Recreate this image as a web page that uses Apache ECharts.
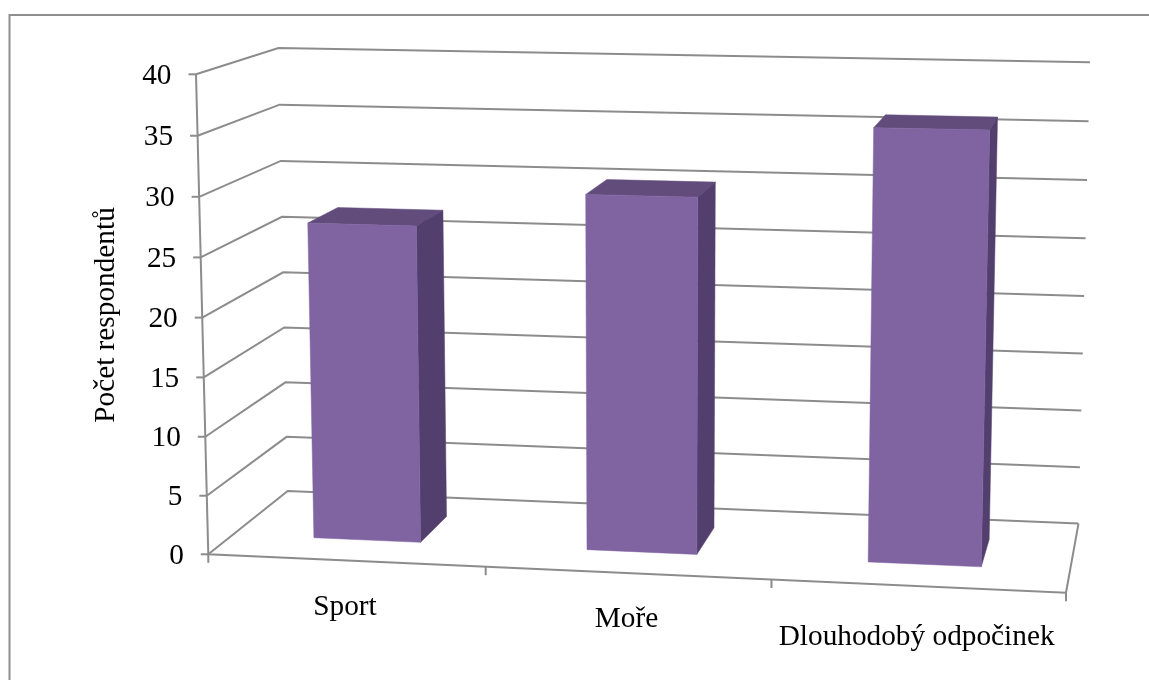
<!DOCTYPE html>
<html>
<head>
<meta charset="utf-8">
<style>html,body{margin:0;padding:0;background:#fff}#chart{width:1149px;height:680px}</style>
<script src="https://cdn.jsdelivr.net/npm/echarts@6/dist/echarts.min.js"></script>
</head>
<body>
<div id="chart"></div>
<script>
const categories = ['Sport', 'Moře', 'Dlouhodobý odpočinek'];
const respondents = [27, 30, 36];
const valueTicks = [0, 5, 10, 15, 20, 25, 30, 35, 40];
const axisTitle = 'Počet respondentů';

// Projected corners of the plot box and homogeneous weights of its three edges.
const ORIGIN = [208.3, 554.3], X_END = [1066, 592.7], Y_END = [196, 74.3], Z_END = [287.7, 491];
const WX = 0.956, WY = 0.97285, WZ = 1.0853;
const VALUE_MAX = 40;
const GRID = { left: 208, top: 74, width: 858, height: 481 };

const COLORS = { front: '#8064A2', side: '#533F6E', top: '#624C7C', line: '#8C8C8C', frame: '#8F8F8F', text: '#000000' };
const FONT = '"Liberation Serif", "Times New Roman", serif';
const TEXT_SIZE = 29.3;

// Perspective map from unit box coordinates (u across, v up, z into the page) to the screen.
function project(u, v, z) {
  const w = 1 + (WX - 1) * u + (WY - 1) * v + (WZ - 1) * z;
  const axis = i => ORIGIN[i]
    + u * (WX * X_END[i] - ORIGIN[i])
    + v * (WY * Y_END[i] - ORIGIN[i])
    + z * (WZ * Z_END[i] - ORIGIN[i]);
  return [axis(0) / w, axis(1) / w];
}

// Grid pixels from the hidden axes become box fractions.
const toU = px => (px - GRID.left) / GRID.width;
const toV = py => 1 - (py - GRID.top) / GRID.height;

const lineStyle = { stroke: COLORS.line, lineWidth: 2, fill: null };
const polyline = pts => ({ type: 'polyline', shape: { points: pts }, style: lineStyle, silent: true });
const face = (pts, fill) => ({ type: 'polygon', shape: { points: pts }, style: { fill: fill, stroke: fill, lineWidth: 0.5 } });
const label = (x, y, text, align) => ({
  type: 'text', silent: true,
  style: { x: x, y: y, text: text, fill: COLORS.text, font: TEXT_SIZE + 'px ' + FONT, textAlign: align, textVerticalAlign: 'middle' }
});

// One gridline per tick: along the left wall, then across the back wall, plus tick and label.
function renderTick(params, api) {
  const tick = api.value(0);
  const v = toV(api.coord([0, tick])[1]);
  const front = project(0, v, 0);
  return {
    type: 'group',
    children: [
      polyline([front, project(0, v, 1), project(1, v, 1)]),
      polyline([front, [front[0] - 7.5, front[1]]]),
      label(front[0] - 24.5, front[1] + 2, String(tick), 'right')
    ]
  };
}

// The value axis, the open edges of the floor and the ticks below the front edge.
function renderFrame(params, api) {
  if (params.dataIndex !== 0) return;
  const children = [
    polyline([project(0, 1, 0), project(0, 0, 0), project(1, 0, 0), project(1, 0, 1)])
  ];
  for (let i = 0; i <= categories.length; i++) {
    const p = project(i / categories.length, 0, 0);
    children.push(polyline([p, [p[0], p[1] + 8.5]]));
  }
  return { type: 'group', children: children };
}

// Category captions sit under the floor, the long last one a little lower.
function renderCategoryLabel(params, api) {
  const i = api.value(0);
  const u = toU(api.coord([i, 0])[0]);
  const p = project(u, 0, 0);
  const drop = i === categories.length - 1 ? 51.5 : 46.5;
  return label(p[0] - 1, p[1] + drop, categories[i], 'center');
}

// A box with a 150% gap on both the width and the depth.
function renderBar(params, api) {
  const i = api.value(0);
  const base = api.coord([i, 0]);
  const v = toV(api.coord([i, api.value(1)])[1]);
  const half = api.size([1, 0])[0] * 0.197 / GRID.width;
  const uc = toU(base[0]) - 0.001;
  const u0 = uc - half, u1 = uc + half, z0 = 0.3, z1 = 0.7;
  return {
    type: 'group',
    children: [
      face([project(u0, v, z0), project(u1, v, z0), project(u1, v, z1), project(u0, v, z1)], COLORS.top),
      face([project(u1, 0, z0), project(u1, 0, z1), project(u1, v, z1), project(u1, v, z0)], COLORS.side),
      face([project(u0, 0, z0), project(u1, 0, z0), project(u1, v, z0), project(u0, v, z0)], COLORS.front)
    ]
  };
}

const chart = echarts.init(document.getElementById('chart'), null, { renderer: 'canvas' });
chart.setOption({
  animation: false,
  backgroundColor: '#ffffff',
  tooltip: { show: false },
  grid: GRID,
  xAxis: { type: 'category', data: categories, show: false },
  yAxis: { type: 'value', min: 0, max: VALUE_MAX, interval: 5, show: false },
  graphic: [
    // The chart frame shows only along its top and left sides.
    { type: 'polyline', silent: true, shape: { points: [[9.5, 680], [9.5, 15], [1149, 15]] },
      style: { fill: null, stroke: COLORS.frame, lineWidth: 2 } },
    { type: 'text', silent: true, x: 106, y: 315, rotation: Math.PI / 2,
      style: { text: axisTitle, fill: COLORS.text, font: TEXT_SIZE + 'px ' + FONT, textAlign: 'center', textVerticalAlign: 'middle' } }
  ],
  series: [
    { type: 'custom', name: 'grid', coordinateSystem: 'cartesian2d', renderItem: renderTick, data: valueTicks.map(t => [t]), encode: { y: 0 }, z: 1, silent: true },
    { type: 'custom', name: 'frame', coordinateSystem: 'cartesian2d', renderItem: renderFrame, data: [[0]], z: 2, silent: true },
    { type: 'custom', name: 'labels', coordinateSystem: 'cartesian2d', renderItem: renderCategoryLabel, data: categories.map((c, i) => [i]), z: 2, silent: true },
    { type: 'custom', name: 'Počet respondentů', coordinateSystem: 'cartesian2d', renderItem: renderBar, data: categories.map((c, i) => [i, respondents[i]]), z: 3 }
  ]
});
</script>
</body>
</html>
